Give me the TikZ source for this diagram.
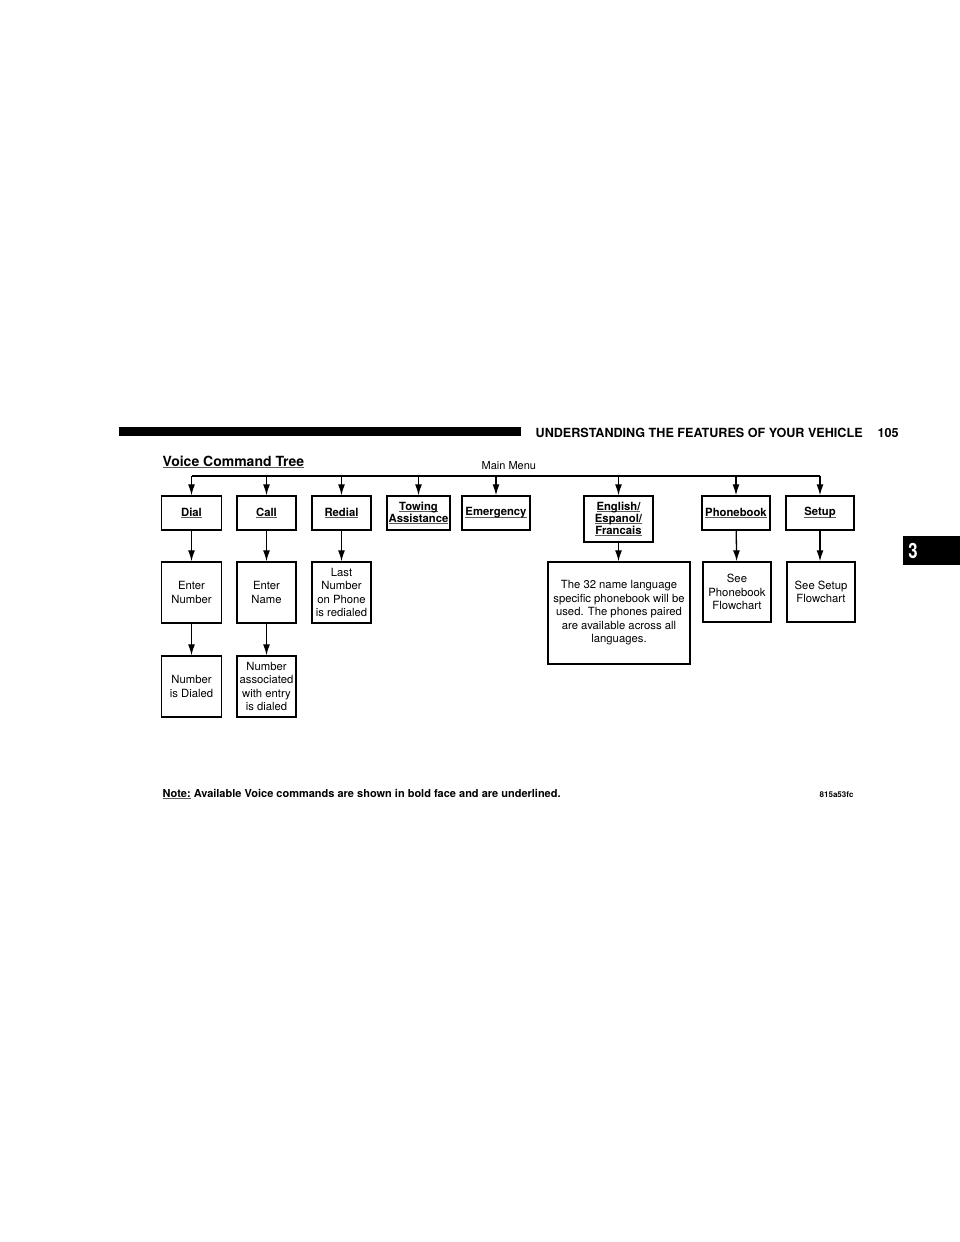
\documentclass[tikz,border=0pt]{standalone}
\usepackage{fontspec}
\setmainfont{TeX Gyre Heros}
\usetikzlibrary{arrows.meta}
\newsavebox{\ulbox}
\newcommand{\voicecmd}[1]{\sbox{\ulbox}{\bfseries #1}\rlap{\color{black!65}\rule[-1.9pt]{\wd\ulbox}{0.8pt}}\usebox{\ulbox}}
\begin{document}
\begin{tikzpicture}[x=1pt,y=-1pt,line width=1.3pt,
	menu/.style={rectangle, draw, line width=1.4pt, inner sep=1pt, align=center, font=\fontsize{11.3}{13.5}\selectfont},
	cmdnode/.style={menu, minimum height=34pt},
	infonode/.style={menu, minimum height=61pt},
	arr/.style={-{Latex[length=11pt,width=7pt]}}]
	\useasboundingbox (0,0) rectangle (960,1242);
	% page header and tab
	\fill (119,427) rectangle (521,436);
	\node (head) at (535,437) [anchor=base west, inner sep=0pt, font=\fontsize{12.6}{14}\selectfont\bfseries] {UNDERSTANDING THE FEATURES OF YOUR VEHICLE};
	\node (page) at (877,437) [anchor=base west, inner sep=0pt, font=\fontsize{12.6}{14}\selectfont\bfseries] {105};
	\fill (903,536) rectangle (960,565);
	\node (tab) at (913,551) [text=white, inner sep=0pt, font=\fontsize{21}{21}\selectfont\bfseries] {\scalebox{0.8}[1]{3}};
	\node (title) at (162,466) [anchor=base west, inner sep=0pt, font=\fontsize{14}{16}\selectfont] {\voicecmd{Voice Command Tree}};
	\node (main) at (481,469) [anchor=base west, inner sep=0pt, font=\fontsize{11}{13}\selectfont] {Main Menu};
	% first row
	\node (Dial)  at (191.5,513) [cmdnode, minimum width=60pt] {\voicecmd{Dial}};
	\node (Call)  at (266.5,513) [cmdnode, minimum width=59pt] {\voicecmd{Call}};
	\node (Redial) at (341.5,513) [cmdnode, minimum width=59pt] {\voicecmd{Redial}};
	\node (Towing) at (418.5,513) [cmdnode, minimum width=63pt] {\voicecmd{Towing}\\[-1.5pt]\voicecmd{Assistance}};
	\node (Emergency) at (496,513) [cmdnode, minimum width=68pt] {\voicecmd{Emergency}};
	\node (Language) at (618.5,519) [menu, minimum width=69pt, minimum height=46pt] {\voicecmd{English/}\\[-1.5pt]\voicecmd{Espanol/}\\[-1.5pt]\voicecmd{Francais}};
	\node (Phonebook) at (736,513) [cmdnode, minimum width=68pt] {\voicecmd{Phonebook}};
	\node (Setup) at (820,513) [cmdnode, minimum width=68pt] {\voicecmd{Setup}};
	% second row
	\node (EnterNumber) at (191.5,592.5) [infonode, minimum width=60pt] {Enter\\Number};
	\node (EnterName)   at (266.5,592.5) [infonode, minimum width=59pt] {Enter\\Name};
	\node (LastNumber)  at (341.5,592.5) [infonode, minimum width=59pt] {Last\\Number\\on Phone\\is redialed};
	\node (LangNote)    at (619,613) [menu, minimum width=142pt, minimum height=102pt] {The 32 name language\\specific phonebook will be\\used. The phones paired\\are available across all\\languages.};
	\node (SeePhonebook) at (737,592) [infonode, minimum width=68pt, minimum height=60pt] {See\\Phonebook\\Flowchart};
	\node (SeeSetup)    at (821,592) [infonode, minimum width=68pt, minimum height=60pt] {See Setup\\Flowchart};
	% third row
	\node (Dialed)   at (191.5,686.5) [infonode, minimum width=60pt] {Number\\is Dialed};
	\node (Assoc)    at (266.5,686.5) [infonode, minimum width=59pt] {Number\\associated\\with entry\\is dialed};
	% main menu bus
	\coordinate (bDial) at (191.5,476);
	\coordinate (bSetup) at (820,476);
	\draw (bDial) -- (bSetup);
	\draw [arr] (bDial) -- (Dial);
	\draw [arr] (Call |- bDial) -- (Call);
	\draw [arr] (Redial |- bDial) -- (Redial);
	\draw [arr] (Towing |- bDial) -- (Towing);
	\draw [arr] (Emergency |- bDial) -- (Emergency);
	\draw [arr] (Language |- bDial) -- (Language);
	\draw [arr] (Phonebook |- bDial) -- (Phonebook);
	\draw [arr] (bSetup) -- (Setup);
	% down the columns
	\draw [arr] (Dial) -- (EnterNumber);
	\draw [arr] (EnterNumber) -- (Dialed);
	\draw [arr] (Call) -- (EnterName);
	\draw [arr] (EnterName) -- (Assoc);
	\draw [arr] (Redial) -- (LastNumber);
	\draw [arr] (Language.south) -- (Language.south |- LangNote.north);
	\draw [arr] (Phonebook) -- (SeePhonebook);
	\draw [arr] (Setup.south) -- (Setup.south |- SeeSetup.north);
	% footnote
	\node (note) at (162,797) [anchor=base west, inner sep=0pt, font=\fontsize{11}{13}\selectfont\bfseries] {\voicecmd{Note:} Available Voice commands are shown in bold face and are underlined.};
	\node (code) at (819,797) [anchor=base west, inner sep=0pt, font=\fontsize{8}{9}\selectfont\bfseries] {815a53fc};
\end{tikzpicture}
\end{document}
